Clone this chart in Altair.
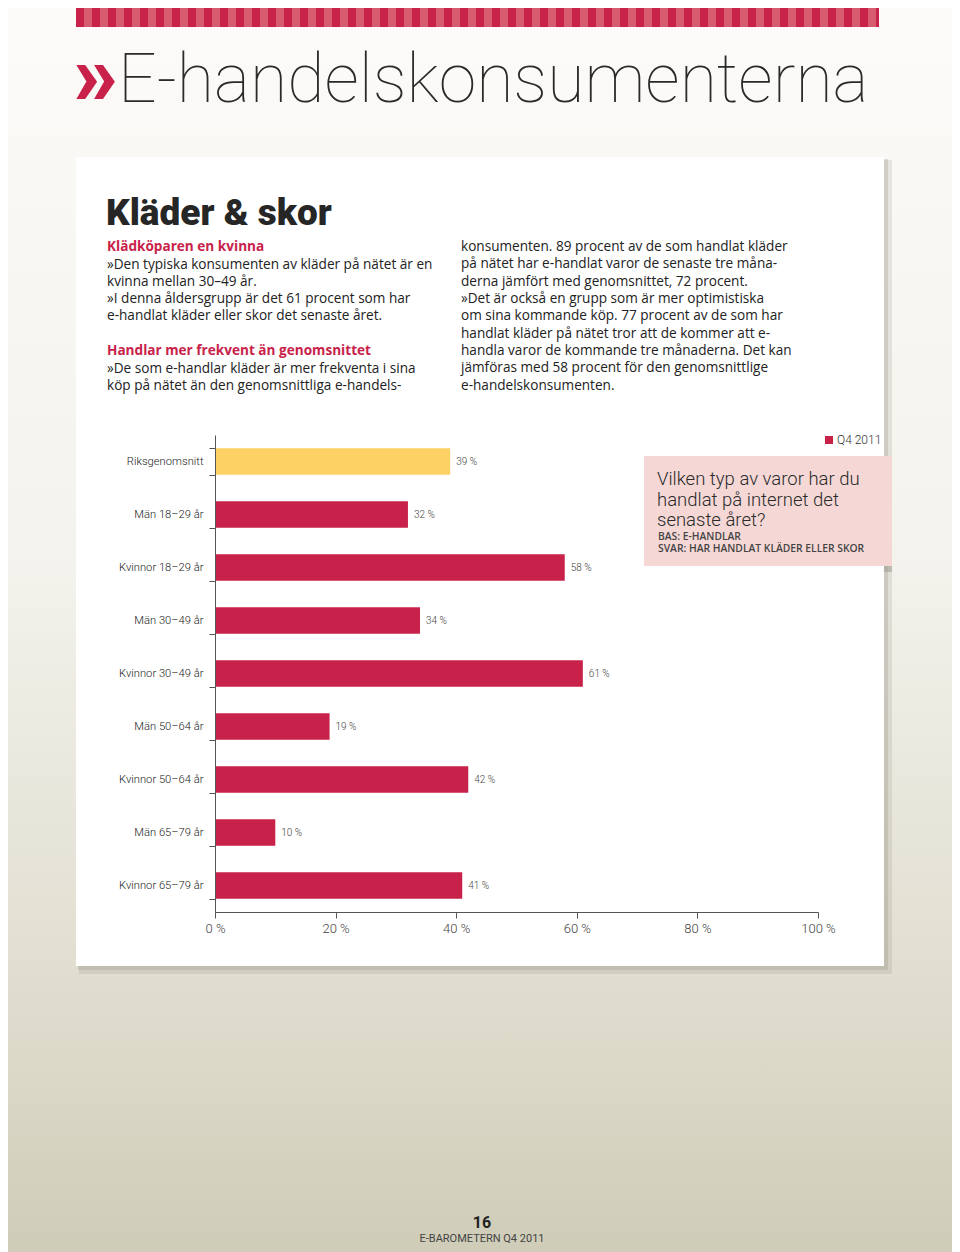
import altair as alt
import pandas as pd

# ---------------- data ----------------
groups = ["Riksgenomsnitt", "Män 18–29 år", "Kvinnor 18–29 år", "Män 30–49 år",
          "Kvinnor 30–49 år", "Män 50–64 år", "Kvinnor 50–64 år", "Män 65–79 år",
          "Kvinnor 65–79 år"]
shares = [39, 32, 58, 34, 61, 19, 42, 10, 41]
x_ticks = [0, 20, 40, 60, 80, 100]

page_title = "E-handelskonsumenterna"
section_title = "Kläder & skor"
head1 = "Klädköparen en kvinna"
body1 = ["»Den typiska konsumenten av kläder på nätet är en",
         "kvinna mellan 30–49 år.",
         "»I denna åldersgrupp är det 61 procent som har",
         "e-handlat kläder eller skor det senaste året."]
head2 = "Handlar mer frekvent än genomsnittet"
body2 = ["»De som e-handlar kläder är mer frekventa i sina",
         "köp på nätet än den genomsnittliga e-handels-"]
body3 = ["konsumenten. 89 procent av de som handlat kläder",
         "på nätet har e-handlat varor de senaste tre måna-",
         "derna jämfört med genomsnittet, 72 procent.",
         "»Det är också en grupp som är mer optimistiska",
         "om sina kommande köp. 77 procent av de som har",
         "handlat kläder på nätet tror att de kommer att e-",
         "handla varor de kommande tre månaderna. Det kan",
         "jämföras med 58 procent för den genomsnittlige",
         "e-handelskonsumenten."]
legend_label = "Q4 2011"
question = ["Vilken typ av varor har du", "handlat på internet det", "senaste året?"]
base_lines = ["BAS: E-HANDLAR", "SVAR: HAR HANDLAT KLÄDER ELLER SKOR"]
page_no = "16"
footer = "E-BAROMETERN Q4 2011"

df = pd.DataFrame({"grupp": groups, "andel": shares})

# ---------------- styling ----------------
RED = "#c8224a"
YELLOW = "#fdd163"
COND = "Roboto"
BODY = "Open Sans"
OX, OY = 215, 435  # page position of the plot origin
one = alt.Data(values=[{"k": 0}])


def box(x1, x2, y1, y2, color, opacity=1.0):
    return alt.Chart(one).mark_rect(color=color, opacity=opacity).encode(
        x=alt.value(x1 - OX), x2=alt.value(x2 - OX),
        y=alt.value(y1 - OY), y2=alt.value(y2 - OY))


def txt(lines, x, y, size, font=BODY, weight="normal", color="#222",
        align="left", baseline="alphabetic", lh=None):
    kw = dict(text=lines, font=font, fontSize=size, fontWeight=weight,
              color=color, align=align, baseline=baseline)
    if lh is not None:
        kw["lineHeight"] = lh
    return alt.Chart(one).mark_text(**kw).encode(
        x=alt.value(x - OX), y=alt.value(y - OY))


# page background gradient
bg_grad = alt.LinearGradient(
    gradient="linear", x1=0, x2=0, y1=0, y2=1,
    stops=[alt.GradientStop(offset=0, color="#fcfbf9"),
           alt.GradientStop(offset=0.45, color="#f3f2ec"),
           alt.GradientStop(offset=0.75, color="#e2e0d2"),
           alt.GradientStop(offset=1, color="#cfcdb8")])
background = alt.Chart(one).mark_rect(color=bg_grad).encode(
    x=alt.value(8 - OX), x2=alt.value(952 - OX),
    y=alt.value(8 - OY), y2=alt.value(1252 - OY))

# striped band at top
stops = []
period = 16 / 803
k = 0
while k * period < 1:
    a = k * period
    b = min(a + period / 2, 1)
    c = min(a + period, 1)
    stops += [alt.GradientStop(offset=a, color=RED), alt.GradientStop(offset=b, color=RED),
              alt.GradientStop(offset=b, color="#d85c6f"), alt.GradientStop(offset=c, color="#d85c6f")]
    k += 1
stripe_grad = alt.LinearGradient(gradient="linear", x1=0, x2=1, y1=0, y2=0, stops=stops)
stripe = alt.Chart(one).mark_rect(color=stripe_grad).encode(
    x=alt.value(76 - OX), x2=alt.value(879 - OX),
    y=alt.value(0 - OY), y2=alt.value(27 - OY))

chevron = txt("»", 73, 104, 88, font="Roboto", weight=900, color=RED)
title_t = txt(page_title, 118, 102, 68, font="Roboto", weight=100, color="#2a2a2a")

shadow1 = box(79, 892, 160, 974, "#8f8d7a", 0.18)
shadow2 = box(78, 888, 159, 970, "#8f8d7a", 0.25)
card = box(76, 884, 157, 966, "#ffffff")

sec_t = txt(section_title, 106, 225, 37, font="Roboto", weight=900, color="#262626")
h1 = txt(head1, 107, 251, 13.6, weight="bold", color=RED)
b1 = txt(body1, 107, 268.5, 13.6, lh=17.3)
h2 = txt(head2, 107, 355, 13.6, weight="bold", color=RED)
b2 = txt(body2, 107, 372.5, 13.6, lh=17.3)
b3 = txt(body3, 461, 251, 13.6, lh=17.35)

# legend + question box
leg_sq = box(825, 833, 436, 444, RED)
leg_t = txt(legend_label, 837, 440, 12, font=COND, weight=300, color="#333", baseline="middle")
q_shadow = box(884, 892, 566, 572, "#9a9888", 0.5)
q_box = box(644, 892, 456, 566, "#f5d8d6")
q_t = txt(question, 657, 485, 18.5, font=COND, weight=300, color="#2a2a2a", lh=20.5)
q_b = txt(base_lines, 658, 540, 10.3, font="Open Sans", weight=600, color="#444", lh=11.5)

# footer
f1 = txt(page_no, 482, 1228, 16, font="Roboto", weight="bold", color="#222", align="center")
f2 = txt(footer, 482, 1242, 11, font="Roboto", color="#444", align="center")

# ---------------- bars ----------------
base = alt.Chart(df)
bars = base.mark_bar().encode(
    x=alt.X("andel:Q", scale=alt.Scale(domain=[0, 100]),
            axis=alt.Axis(values=x_ticks, labelExpr="datum.value + ' %'", title=None,
                          grid=False, tickSize=6, labelPadding=4, labelFlush=False,
                          domainColor="#555", tickColor="#555", labelColor="#444",
                          labelFont=COND, labelFontWeight=300, labelFontSize=13, zindex=1)),
    y=alt.Y("grupp:N", sort=groups,
            scale=alt.Scale(paddingInner=0.5, paddingOuter=0.25),
            axis=alt.Axis(title=None, tickBand="extent", tickSize=6, labelPadding=6,
                          domainColor="#555", tickColor="#555", labelColor="#222",
                          labelFont=COND, labelFontWeight=300, labelFontSize=11.2, zindex=1)),
    color=alt.condition(alt.datum.grupp == "Riksgenomsnitt", alt.value(YELLOW), alt.value(RED)),
)
labels = base.mark_text(align="left", baseline="middle", dx=6, font=COND, fontWeight=300,
                        fontSize=10, color="#444").encode(
    x=alt.X("andel:Q"), y=alt.Y("grupp:N", sort=groups),
    text=alt.Text("label:N"),
).transform_calculate(label="datum.andel + ' %'")

chart = alt.layer(
    background, stripe, chevron, title_t, shadow1, shadow2, card,
    sec_t, h1, b1, h2, b2, b3,
    leg_sq, leg_t, q_shadow, q_box, q_t, q_b, f1, f2,
    bars, labels,
).properties(
    width=603, height=477,
    padding={"left": 207, "top": 427, "right": 134, "bottom": 340},
    autosize=alt.AutoSizeParams(type="none"),
).configure_view(stroke=None).configure(background="#fcfbf9")

chart.save("out.html", embed_options={"renderer": "svg", "actions": False})
